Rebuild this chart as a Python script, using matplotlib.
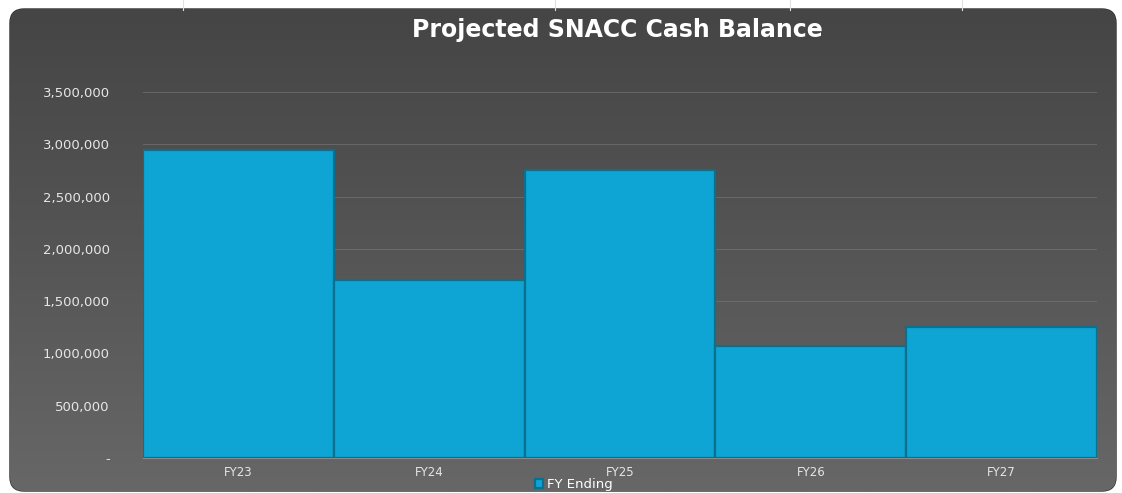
import matplotlib
matplotlib.use("Agg")
import matplotlib.pyplot as plt
import numpy as np
from matplotlib.patches import FancyBboxPatch
from matplotlib.ticker import FuncFormatter, MultipleLocator
from matplotlib.colors import LinearSegmentedColormap

categories = ["FY23", "FY24", "FY25", "FY26", "FY27"]
values = [2945000, 1700000, 2755000, 1070000, 1250000]
series_name = "FY Ending"
title = "Projected SNACC Cash Balance"

W, H = 1122, 493
fig = plt.figure(figsize=(W / 100, H / 100), dpi=100)
fig.patch.set_facecolor("white")

# faint spreadsheet lines outside the panel
for xp in [183, 555, 790, 962]:
    fig.add_artist(plt.Line2D([xp / W, xp / W], [1 - 10 / H, 1], color="#e0e0e0", lw=0.8))

# background panel with gradient
bg = fig.add_axes([0, 0, 1, 1], zorder=0)
bg.set_xlim(0, W)
bg.set_ylim(H, 0)
bg.axis("off")
x0, y0, x1, y1 = 10, 9, 1116, 491
grad = np.linspace(0, 1, 256).reshape(-1, 1)
grad = np.hstack([grad, grad])
cmap = LinearSegmentedColormap.from_list("g", ["#454545", "#555555", "#676767"])
patch = FancyBboxPatch((x0, y0), x1 - x0, y1 - y0,
                       boxstyle="round,pad=0,rounding_size=14",
                       facecolor="#4c4c4c", edgecolor="#2e2e2e", lw=1.0)
bg.add_patch(patch)
im = bg.imshow(grad, extent=[x0, x1, y1, y0], cmap=cmap, aspect="auto", zorder=1)
im.set_clip_path(patch)

ax = fig.add_axes([143 / W, 1 - 458 / H, (1097 - 143) / W, (458 - 92) / H], zorder=2)
ax.set_facecolor("none")
x = np.arange(len(categories))
bars = ax.bar(x, values, width=1.0, color="#0ea5d4", edgecolor="#0b6f8e",
              linewidth=1.6, zorder=3, label=series_name)
ax.set_xlim(-0.5, len(categories) - 0.5)
ax.set_ylim(0, 3500000)
ax.yaxis.set_major_locator(MultipleLocator(500000))
ax.yaxis.set_major_formatter(FuncFormatter(lambda v, p: "-" if v == 0 else f"{int(v):,}"))
ax.grid(axis="y", color="#7a7a7a", lw=0.7, alpha=0.6, zorder=0)
for s in ax.spines.values():
    s.set_visible(False)
ax.spines["bottom"].set_visible(True)
ax.spines["bottom"].set_color("#8a8a8a")
ax.tick_params(axis="both", length=0, colors="#e6e6e6")
ax.tick_params(axis="y", pad=24, labelsize=9.5)
ax.tick_params(axis="x", pad=6, labelsize=8.5)
ax.set_xticks(x)
ax.set_xticklabels(categories)

fig.text(617 / W, 1 - 30 / H, title, ha="center", va="center", color="white",
         fontsize=17, fontweight="bold", fontfamily="DejaVu Sans")

leg = fig.legend(handles=[bars], labels=[series_name], loc="center",
                 bbox_to_anchor=(574 / W, 1 - 484.5 / H), frameon=False,
                 fontsize=9.5, labelcolor="white", handlelength=0.6,
                 handleheight=0.6, handletextpad=0.3, borderpad=0.1)

fig.savefig("out.png", dpi=100)
